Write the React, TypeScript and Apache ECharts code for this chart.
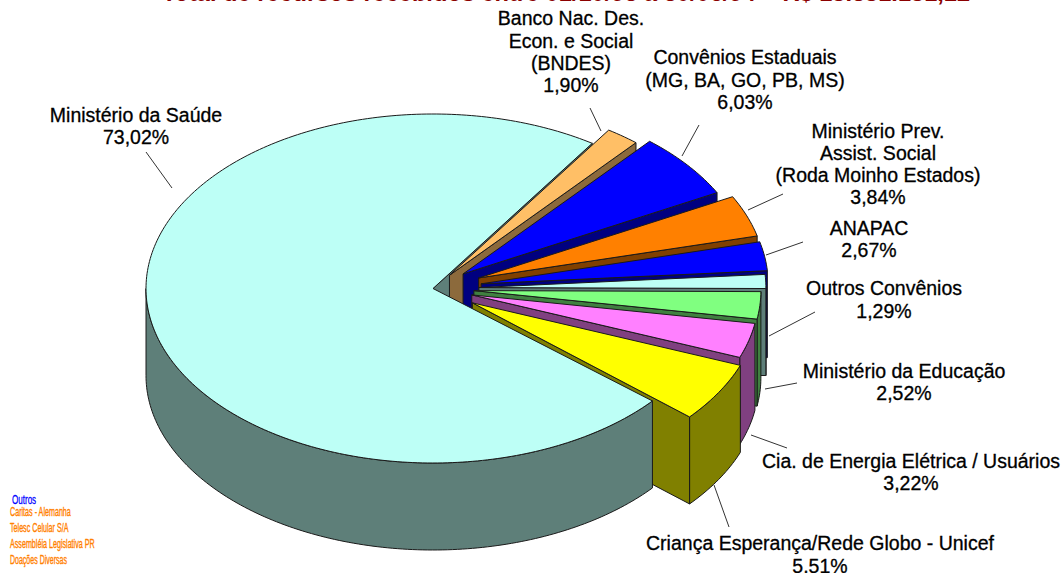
import React, { useEffect, useRef } from "react";
import * as echarts from "echarts";

const sliceNames = [
  "Ministério da Saúde",
  "Banco Nac. Des. Econ. e Social (BNDES)",
  "Convênios Estaduais (MG, BA, GO, PB, MS)",
  "Ministério Prev. Assist. Social (Roda Moinho Estados)",
  "ANAPAC",
  "Outros Convênios",
  "Ministério da Educação",
  "Cia. de Energia Elétrica / Usuários",
  "Criança Esperança/Rede Globo - Unicef",
];
const sliceValues = [73.02, 1.9, 6.03, 3.84, 2.67, 1.29, 2.52, 3.22, 5.51];
const titleText = "Total de recursos recebidos entre 01/10/93 a 30/06/94 = R$ 15.851.151,12";
const otherItems = ["Caritas - Alemanha", "Telesc Celular S/A", "Assembléia Legislativa PR", "Doações Diversas"];
const otherHeading = "Outros";

// styles and layout
const topColors = ["#BDFFF6", "#FFBF66", "#0000FF", "#FF8000", "#0000FF", "#BDFFF6", "#80FF80", "#FF80FF", "#FFFF00"];
const wallColors = ["#5E7F79", "#8C6A3C", "#000080", "#804000", "#000080", "#5E7F79", "#408040", "#804080", "#808000"];
const explode = [0, 0.095, 0.134, 0.17, 0.17, 0.16, 0.143, 0.14, 0.16];
const CX = 433, CY = 288.5, RX = 287, RY = 174.5, DEPTH = 87, START_DEG = 56.3, MAIN_END_TWEAK = 0.7;
const OUTLINE = "#1a1a1a";
const FONT = "Liberation Sans, Arial, sans-serif";

const labelLayout = [
  { cx: 136, ys: [115, 137], lines: ["Ministério da Saúde", "73,02%"], leader: [146, 152, 172, 188] },
  { cx: 571, ys: [18, 41, 63, 85], lines: ["Banco Nac. Des.", "Econ. e Social", "(BNDES)", "1,90%"], leader: [590, 108, 601, 131] },
  { cx: 745, ys: [57, 80, 102], lines: ["Convênios Estaduais", "(MG, BA, GO, PB, MS)", "6,03%"], leader: [699, 125, 682, 156] },
  { cx: 878, ys: [131, 153, 175, 197], lines: ["Ministério Prev.", "Assist. Social", "(Roda Moinho Estados)", "3,84%"], leader: [783, 194, 748, 210] },
  { cx: 869, ys: [228, 250], lines: ["ANAPAC", "2,67%"], leader: [803, 242, 766, 255] },
  { cx: 884, ys: [288, 311], lines: ["Outros Convênios", "1,29%"], leader: [815, 312, 769, 336] },
  { cx: 904, ys: [371, 393], lines: ["Ministério da Educação", "2,52%"], leader: [797, 383, 765, 389] },
  { cx: 911, ys: [461, 483], lines: ["Cia. de Energia Elétrica / Usuários", "3,22%"], leader: [787, 448, 751, 435] },
  { cx: 820, ys: [543, 566], lines: ["Criança Esperança/Rede Globo - Unicef", "5,51%"], leader: [729, 527, 714, 485] },
];
const otherYs = [511, 527, 543, 559];
const otherScale = [0.53, 0.53, 0.53, 0.52];

const rad = (d: number) => (d * Math.PI) / 180;

// Angular extent of every slice, going clockwise from the start of slice 1 (BNDES); the main slice takes the rest.
function sliceAngles() {
  const total = sliceValues.reduce((a, b) => a + b, 0);
  const res: { hi: number; lo: number }[] = new Array(sliceValues.length);
  let a = START_DEG;
  for (let i = 1; i < sliceValues.length; i++) {
    const sweep = (sliceValues[i] / total) * 360;
    res[i] = { hi: a, lo: a - sweep };
    a -= sweep;
  }
  res[0] = { hi: START_DEG, lo: a + 360 + MAIN_END_TWEAK };
  return res;
}
const ANGLES = sliceAngles();

function geom(i: number) {
  const { hi, lo } = ANGLES[i];
  const mid = rad((hi + lo) / 2);
  const k = explode[i];
  const ox = CX + k * RX * Math.cos(mid);
  const oy = CY - k * RY * Math.sin(mid);
  const at = (deg: number, dz = 0): number[] => [ox + RX * Math.cos(rad(deg)), oy - RY * Math.sin(rad(deg)) + dz];
  return { hi, lo, ox, oy, at };
}

function arcPoints(at: (d: number, z?: number) => number[], from: number, to: number, dz = 0) {
  const pts: number[][] = [];
  const n = Math.max(2, Math.ceil(Math.abs(from - to)));
  for (let j = 0; j <= n; j++) pts.push(at(from + ((to - from) * j) / n, dz));
  return pts;
}

function poly(points: number[][], fill: string) {
  return { type: "polygon", shape: { points }, style: { fill, stroke: OUTLINE, lineWidth: 1 } };
}

function endWall(i: number) {
  // The wall on the clockwise edge of the slice, which faces the viewer on the right side.
  const g = geom(i);
  const e = g.at(i === 0 ? g.hi : g.lo);
  const apex = [g.ox, g.oy];
  return poly([apex, e, [e[0], e[1] + DEPTH], [apex[0], apex[1] + DEPTH]], wallColors[i]);
}

function rimWall(i: number) {
  // Only the part of the rim below the horizontal diameter can be seen.
  const g = geom(i);
  const from = i === 0 ? 180 : Math.min(g.hi, 0.5);
  const to = g.lo;
  if (i !== 0 && from <= to) return null;
  const a = arcPoints(g.at, from, to);
  const b = arcPoints(g.at, to, from, DEPTH);
  return poly([...a, ...b], wallColors[i]);
}

function topFace(i: number) {
  const g = geom(i);
  return poly([[g.ox, g.oy], ...arcPoints(g.at, g.hi, g.lo)], topColors[i]);
}

export default function App() {
  const ref = useRef<HTMLDivElement>(null);
  useEffect(() => {
    document.body.style.margin = "0";
    if (!ref.current) return;
    const chart = echarts.init(ref.current, undefined, { renderer: "svg" });

    const renderBack = () => ({ type: "group", children: [endWall(0)] });
    const renderSlice = (_: any, api: any) => {
      const i = api.value(0);
      const kids: any[] = [];
      const rim = rimWall(i);
      if (rim) kids.push(rim);
      if (i !== 0) kids.push(endWall(i));
      kids.push(topFace(i));
      return { type: "group", children: kids };
    };

    const texts: any[] = [];
    labelLayout.forEach((l) => {
      l.lines.forEach((t, j) => {
        texts.push({
          type: "text",
          x: l.cx,
          y: l.ys[j],
          style: {
            text: t,
            align: "center",
            verticalAlign: "middle",
            fontFamily: FONT,
            fontSize: 19.5,
            fill: "#000",
            stroke: "#000",
            lineWidth: 0.3,
          },
        });
      });
      texts.push({
        type: "line",
        shape: { x1: l.leader[0], y1: l.leader[1], x2: l.leader[2], y2: l.leader[3] },
        style: { stroke: "#333", lineWidth: 1 },
      });
    });
    texts.push({
      type: "text",
      x: 566,
      y: -7.5,
      style: {
        text: titleText,
        align: "center",
        verticalAlign: "middle",
        fontFamily: FONT,
        fontSize: 23.6,
        fontWeight: "bold",
        fill: "#8B0000",
      },
    });
    texts.push({
      type: "text",
      x: 12,
      y: 499,
      scaleX: 0.62,
      style: { text: otherHeading, verticalAlign: "middle", fontFamily: FONT, fontSize: 13, fill: "#0000FF", stroke: "#0000FF", lineWidth: 0.3 },
    });
    otherItems.forEach((t, j) => {
      texts.push({
        type: "text",
        x: 10,
        y: otherYs[j],
        scaleX: otherScale[j],
        style: { text: t, verticalAlign: "middle", fontFamily: FONT, fontSize: 13.5, fill: "#FF8000", stroke: "#FF8000", lineWidth: 0.4 },
      });
    });

    const order = [1, 2, 3, 4, 5, 6, 7, 8, 0];
    chart.setOption({
      animation: false,
      backgroundColor: "#ffffff",
      series: [
        { type: "custom", name: "wall", coordinateSystem: "none", silent: true, clip: false, renderItem: renderBack, data: [[0]], z: 1 },
        {
          type: "custom",
          name: "slices",
          coordinateSystem: "none",
          silent: true,
          clip: false,
          renderItem: renderSlice,
          data: order.map((i) => ({ name: sliceNames[i], value: [i, sliceValues[i]] })),
          z: 2,
        },
      ],
      graphic: { elements: texts },
    });
    return () => chart.dispose();
  }, []);
  return <div ref={ref} style={{ width: 1064, height: 573 }} />;
}
